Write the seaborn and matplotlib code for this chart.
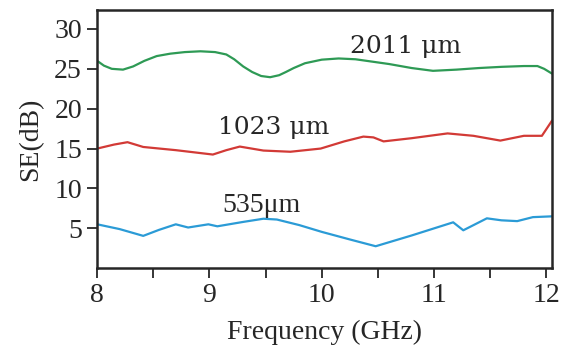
import numpy as np
import pandas as pd
import seaborn as sns
from matplotlib import pyplot as plt

# values
x_2011 = [8.0, 8.06, 8.13, 8.23, 8.32, 8.42, 8.53, 8.65, 8.78, 8.92, 9.05, 9.15, 9.22, 9.3, 9.38, 9.46, 9.54, 9.62, 9.68, 9.75, 9.85, 10.0, 10.15, 10.3, 10.45, 10.6, 10.8, 10.99, 11.2, 11.4, 11.6, 11.8, 11.92, 11.98, 12.05]
se_2011 = [26.0, 25.4, 25.0, 24.9, 25.3, 26.0, 26.6, 26.9, 27.1, 27.2, 27.1, 26.8, 26.2, 25.3, 24.6, 24.1, 23.95, 24.2, 24.6, 25.1, 25.7, 26.15, 26.3, 26.2, 25.9, 25.6, 25.1, 24.75, 24.9, 25.1, 25.25, 25.35, 25.35, 25.0, 24.4]

x_1023 = [8.0, 8.15, 8.27, 8.41, 8.7, 9.03, 9.15, 9.27, 9.48, 9.72, 9.99, 10.2, 10.37, 10.46, 10.55, 10.8, 11.12, 11.35, 11.59, 11.8, 11.96, 12.05]
se_1023 = [15.0, 15.5, 15.8, 15.2, 14.8, 14.25, 14.8, 15.25, 14.75, 14.6, 15.0, 15.9, 16.5, 16.4, 15.9, 16.3, 16.9, 16.6, 16.0, 16.6, 16.6, 18.5]

x_535 = [8.0, 8.2, 8.41, 8.55, 8.7, 8.81, 8.99, 9.07, 9.3, 9.48, 9.6, 9.8, 10.0, 10.25, 10.48, 10.8, 11.17, 11.26, 11.47, 11.6, 11.74, 11.88, 12.05]
se_535 = [5.5, 4.9, 4.05, 4.8, 5.5, 5.1, 5.5, 5.25, 5.8, 6.2, 6.1, 5.4, 4.55, 3.6, 2.75, 4.1, 5.75, 4.75, 6.25, 6.0, 5.9, 6.4, 6.5]

sns.set_style("ticks")
plt.rcParams['font.family'] = ['Liberation Serif', 'DejaVu Serif']

fig, ax = plt.subplots(figsize=(5.65, 3.51), dpi=100)

sns.lineplot(x=x_2011, y=se_2011, color='#2e9a55', lw=1.6, ax=ax)
sns.lineplot(x=x_1023, y=se_1023, color='#d23a36', lw=1.6, ax=ax)
sns.lineplot(x=x_535, y=se_535, color='#2b9bd6', lw=1.6, ax=ax)

ax.text(10.25, 27.8, '2011 μm', fontsize=18, va='center', ha='left', family='DejaVu Serif')
ax.text(9.08, 17.7, '1023 μm', fontsize=18, va='center', ha='left', family='DejaVu Serif')
ax.text(9.11, 7.8, '535μm', fontsize=20, va='center', ha='left')

ax.set_xlim(8, 12.05)
ax.set_ylim(0, 32.4)
ax.set_xticks([8, 9, 10, 11, 12])
ax.set_xticks(np.arange(8.5, 12, 1.0), minor=True)
ax.set_yticks([5, 10, 15, 20, 25, 30])
ax.set_xlabel('Frequency (GHz)', fontsize=20, labelpad=8)
ax.set_ylabel('SE(dB)', fontsize=20, labelpad=8)

for s in ax.spines.values():
    s.set_visible(True)
    s.set_linewidth(1.8)
ax.tick_params(axis='both', which='both', direction='out', width=1.3, labelsize=20)
ax.tick_params(axis='both', which='major', length=7, pad=4)
ax.tick_params(axis='x', which='minor', length=7)

plt.subplots_adjust(left=0.172, right=0.977, top=0.972, bottom=0.236)
plt.savefig('out.png')
